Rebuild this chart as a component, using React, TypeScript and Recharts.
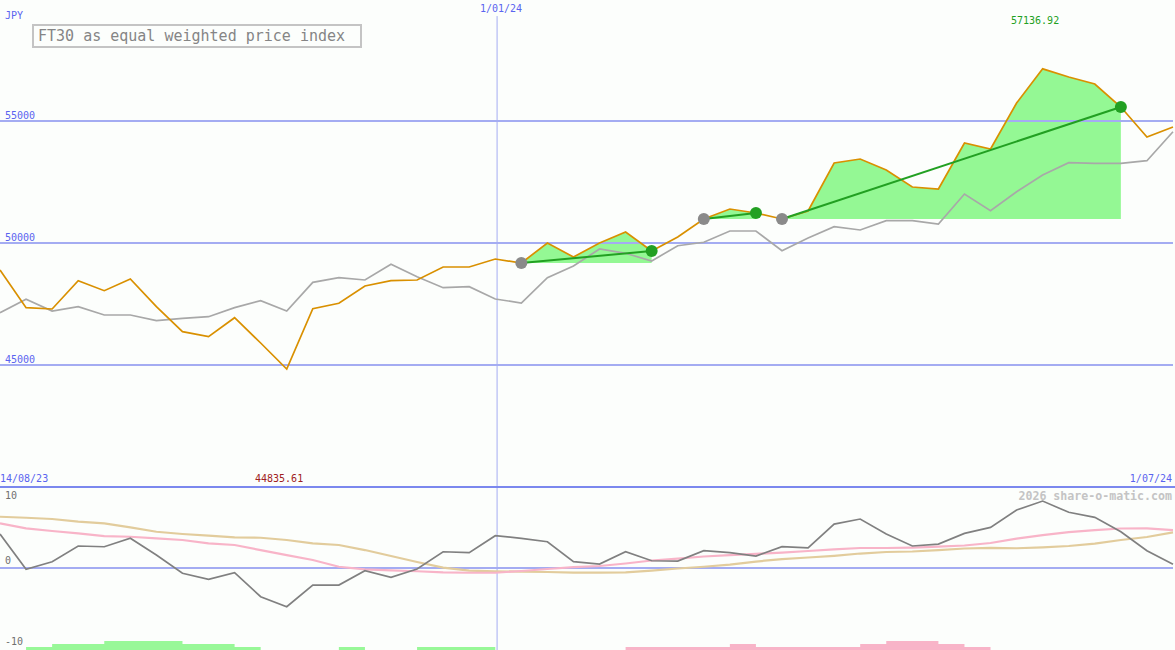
import React from "react";
import { ComposedChart, Line, Area, XAxis, YAxis, ReferenceLine } from "recharts";

// weekly closes, 14/08/23 .. 1/07/24
const PRICE = [
  48893, 47349, 47295, 48455, 48045, 48525, 47390, 46365, 46160, 46939,
  45902, 44835.61, 47308, 47529, 48238, 48455, 48484, 49016, 49016, 49344,
  49180, 50000, 49426, 50000, 50451, 49672, 50246, 50984, 51393, 51229,
  50984, 51311, 53279, 53442, 52992, 52295, 52213, 54098, 53852, 55737,
  57136.92, 56803, 56516, 55574, 54344, 54754,
];
const RELATIVE = [
  47144, 47693, 47213, 47390, 47049, 47049, 46816, 46914, 46980, 47349,
  47635, 47213, 48389, 48578, 48484, 49127, 48619, 48168, 48209, 47705,
  47541, 48578, 49057, 49754, 49578, 49262, 49889, 50029, 50492, 50492,
  49684, 50205, 50668, 50533, 50914, 50914, 50779, 52008, 51324, 52102,
  52787, 53291, 53266, 53266, 53373, 54561,
];
const MOMENTUM = [
  4.2, -0.16, 0.78, 2.72, 2.63, 3.67, 1.6, -0.65, -1.4, -0.58,
  -3.54, -4.78, -2.1, -2.1, -0.33, -1.15, -0.12, 2.01, 1.89, 3.99,
  3.67, 3.25, 0.78, 0.49, 2.01, 0.9, 0.86, 2.14, 1.89, 1.48,
  2.63, 2.5, 5.43, 6.05, 4.2, 2.72, 2.96, 4.28, 5.02, 7.16,
  8.27, 6.88, 6.26, 4.48, 2.14, 0.46,
];
const SIGNAL = [
  5.52, 4.9, 4.57, 4.28, 3.95, 3.86, 3.67, 3.46, 3.05, 2.84,
  2.22, 1.6, 0.99, 0.16, -0.16, -0.3, -0.4, -0.53, -0.58, -0.58,
  -0.37, -0.12, 0.12, 0.25, 0.56, 0.93, 1.17, 1.42, 1.6, 1.75,
  1.91, 2.1, 2.31, 2.47, 2.47, 2.53, 2.65, 2.78, 3.09, 3.64,
  4.07, 4.44, 4.69, 4.88, 4.9, 4.69,
];
const SLOW = [
  6.33, 6.21, 6.05, 5.72, 5.52, 5.02, 4.48, 4.2, 3.99, 3.79,
  3.74, 3.46, 3.05, 2.84, 2.22, 1.48, 0.74, 0.06, -0.31, -0.41,
  -0.44, -0.49, -0.56, -0.57, -0.53, -0.31, -0.06, 0.16, 0.43, 0.8,
  1.11, 1.3, 1.51, 1.79, 1.98, 2.04, 2.22, 2.41, 2.49, 2.44,
  2.56, 2.72, 3.02, 3.46, 3.83, 4.41,
];
const BUY_BARS = [
  0, 1, 2, 2, 3, 3, 3, 2, 2, 1, 0, 0, 0, 1, 0, 0, 1, 1, 1, 0, 0, 0, 0,
  0, 0, 0, 0, 0, 0, 0, 0, 0, 0, 0, 0, 0, 0, 0, 0, 0, 0, 0, 0, 0, 0, 0,
];
const SELL_BARS = [
  0, 0, 0, 0, 0, 0, 0, 0, 0, 0, 0, 0, 0, 0, 0, 0, 0, 0, 0, 0, 0, 0, 0,
  0, 1, 1, 1, 1, 2, 1, 1, 1, 1, 2, 3, 3, 2, 1, 0, 0, 0, 0, 0, 0, 0, 0,
];
const TRADE_ENTRY = [20, 27, 30];
const TRADE_EXIT = [25, 29, 43];
const GRID_LEVELS = [45000, 50000, 55000];
const NEW_YEAR_INDEX = 19.07;

const MONO = "'DejaVu Sans Mono', 'Liberation Mono', monospace";
const BLUE_TEXT = "#5a64f0";
const GRID = "#a4acf2";

const topData = PRICE.map((p, i) => {
  const row: any = { i, price: p, rel: RELATIVE[i] };
  TRADE_ENTRY.forEach((e, k) => {
    const x = TRADE_EXIT[k];
    row["fill" + k] = i >= e && i <= x ? [PRICE[e], p] : null;
    row["trade" + k] = i === e || i === x ? p : null;
  });
  return row;
});

const bottomData = MOMENTUM.map((m, i) => ({
  i,
  mom: m,
  sig: SIGNAL[i],
  slow: SLOW[i],
  buy: BUY_BARS[i],
  sell: SELL_BARS[i],
}));

const tradeDot = (k: number) => (props: any) => {
  const { cx, cy, payload, index } = props;
  if (cx == null || cy == null || payload["trade" + k] == null) return <g key={"d" + k + index} />;
  const isEntry = payload.i === TRADE_ENTRY[k];
  return (
    <circle key={"d" + k + index} cx={cx} cy={cy} r={6} fill={isEntry ? "#8a8a8a" : "#22a022"} />
  );
};

const txt = (style: React.CSSProperties): React.CSSProperties => ({
  position: "absolute",
  fontFamily: MONO,
  fontSize: 10,
  lineHeight: "10px",
  whiteSpace: "nowrap",
  ...style,
});

export default function App() {
  return (
    <div style={{ position: "absolute", left: 0, top: 0, width: 1175, height: 650, background: "#fcfefc", overflow: "hidden" }}>
      <div style={{ position: "absolute", left: 0, top: 0 }}>
        <ComposedChart width={1175} height={486} data={topData} margin={{ top: 0, right: 2, left: 0, bottom: 0 }}>
          <XAxis type="number" dataKey="i" domain={[0, 45]} hide />
          <YAxis type="number" domain={[40041, 59959]} hide allowDataOverflow />
          {GRID_LEVELS.map((v) => (
            <ReferenceLine
              key={v}
              y={v}
              stroke={GRID}
              strokeWidth={2}
              label={{ value: String(v), position: "insideBottomLeft", offset: 2, dx: 3, fill: BLUE_TEXT, fontSize: 10, fontFamily: MONO }}
            />
          ))}
          <ReferenceLine
            segment={[{ x: NEW_YEAR_INDEX, y: 59300 }, { x: NEW_YEAR_INDEX, y: 40041 }]}
            stroke={GRID}
            strokeWidth={1}
          />
          {TRADE_ENTRY.map((_, k) => (
            <Area
              key={"f" + k}
              dataKey={"fill" + k}
              stroke="none"
              fill="#94f894"
              fillOpacity={1}
              dot={false}
              activeDot={false}
              isAnimationActive={false}
            />
          ))}
          <Line dataKey="rel" stroke="#a8a8a8" strokeWidth={1.7} dot={false} activeDot={false} isAnimationActive={false} />
          <Line dataKey="price" stroke="#d99000" strokeWidth={1.7} dot={false} activeDot={false} isAnimationActive={false} />
          {TRADE_ENTRY.map((_, k) => (
            <Line
              key={"t" + k}
              dataKey={"trade" + k}
              stroke="#22a022"
              strokeWidth={2}
              connectNulls
              dot={tradeDot(k)}
              activeDot={false}
              isAnimationActive={false}
            />
          ))}
        </ComposedChart>
      </div>

      <div style={{ position: "absolute", left: 0, top: 486, width: 1175, height: 2, background: "#7b88ee" }} />

      <div style={{ position: "absolute", left: 0, top: 488 }}>
        <ComposedChart width={1175} height={162} data={bottomData} margin={{ top: 0, right: 2, left: 0, bottom: 0 }}>
          <XAxis type="number" dataKey="i" domain={[0, 45]} hide />
          <YAxis yAxisId="osc" type="number" domain={[-10.12, 9.88]} hide allowDataOverflow />
          <YAxis yAxisId="bars" type="number" domain={[0, 54]} hide allowDataOverflow />
          <ReferenceLine yAxisId="osc" y={0} stroke={GRID} strokeWidth={2} />
          <ReferenceLine yAxisId="osc" x={NEW_YEAR_INDEX} stroke={GRID} strokeWidth={1} />
          <Area yAxisId="bars" type="stepAfter" dataKey="buy" stroke="none" fill="#98f898" fillOpacity={1} activeDot={false} isAnimationActive={false} />
          <Area yAxisId="bars" type="stepAfter" dataKey="sell" stroke="none" fill="#f8b4c8" fillOpacity={1} activeDot={false} isAnimationActive={false} />
          <Line yAxisId="osc" dataKey="slow" stroke="#e2cc9c" strokeWidth={2.2} dot={false} activeDot={false} isAnimationActive={false} />
          <Line yAxisId="osc" dataKey="sig" stroke="#f8b4c8" strokeWidth={2.2} dot={false} activeDot={false} isAnimationActive={false} />
          <Line yAxisId="osc" dataKey="mom" stroke="#808080" strokeWidth={1.7} dot={false} activeDot={false} isAnimationActive={false} />
        </ComposedChart>
      </div>

      <div style={txt({ left: 5, top: 11, color: BLUE_TEXT })}>JPY</div>
      <div
        style={{
          position: "absolute",
          left: 32,
          top: 24,
          width: 322,
          height: 20,
          border: "2px solid #c4c4c4",
          fontFamily: MONO,
          fontSize: 15,
          lineHeight: "20px",
          color: "#858585",
          paddingLeft: 4,
          boxSizing: "content-box",
          whiteSpace: "nowrap",
        }}
      >
        FT30 as equal weighted price index
      </div>
      <div style={txt({ left: 480, top: 4, color: BLUE_TEXT })}>1/01/24</div>
      <div style={txt({ left: 1011, top: 16, color: "#22a022" })}>57136.92</div>
      <div style={txt({ left: 0, top: 474, color: BLUE_TEXT })}>14/08/23</div>
      <div style={txt({ left: 255, top: 474, color: "#a02020" })}>44835.61</div>
      <div style={txt({ right: 3, top: 474, color: BLUE_TEXT })}>1/07/24</div>
      <div style={txt({ left: 5, top: 491, color: "#707070" })}>10</div>
      <div style={txt({ left: 5, top: 556, color: "#707070" })}>0</div>
      <div style={txt({ left: 5, top: 637, color: "#707070" })}>-10</div>
      <div style={txt({ right: 3, top: 490, color: "#c4c4c4", fontSize: 11.6, lineHeight: "12px", fontWeight: "bold" })}>
        2026 share-o-matic.com
      </div>
    </div>
  );
}
